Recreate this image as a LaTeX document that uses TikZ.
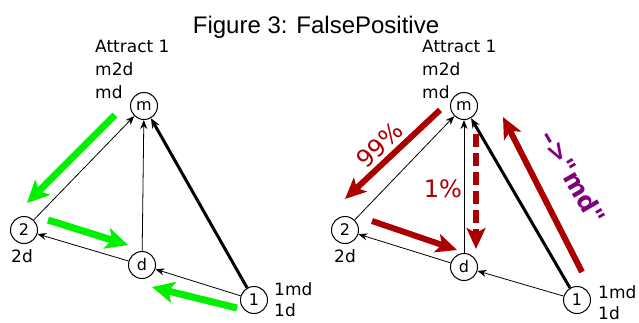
\documentclass[tikz,border=0pt]{standalone}
\usepackage{fontspec}
\setmainfont{DejaVu Sans}
\newfontfamily\titlefont{Liberation Sans}
\newfontfamily\mdfont{DejaVu Sans}
\usetikzlibrary{arrows.meta}
\definecolor{gr}{RGB}{0,240,0}
\definecolor{dred}{RGB}{170,0,0}
\definecolor{purp}{RGB}{128,0,128}
\tikzset{
  st/.style={circle,draw,line width=1pt,minimum size=27pt,inner sep=0pt,font=\fontsize{16}{18}\selectfont},
  lab/.style={anchor=base west,inner sep=0pt,font=\fontsize{17}{23}\selectfont},
  thin/.style={line width=0.8pt,-{Stealth[length=9pt,width=7pt]}},
  thick/.style={line width=3pt,-{Stealth[length=10pt,width=8pt]}},
  garrow/.style={gr,line width=7pt,-{Stealth[length=22pt,width=21pt,inset=5pt]}},
  rarrow/.style={dred,line width=6pt,-{Stealth[length=21pt,width=19pt,inset=5pt]}},
}
\begin{document}
\begin{tikzpicture}[x=1pt,y=-1pt]
\useasboundingbox (0,0) rectangle (639,322);
\node[anchor=base,inner sep=0pt,font=\titlefont\fontsize{24}{28}\selectfont] (title) at (316,33) {Figure 3: FalsePositive};
% left panel
\node[st] (m) at (144,106) {m};
\node[st] (two) at (24,230) {2};
\node[st] (d) at (142,265) {d};
\node[st] (one) at (254,300) {1};
\node[lab] (la1) at (95,52) {Attract 1};
\node[lab] (la2) at (95,75) {m2d};
\node[lab] (la3) at (95,98) {md};
\node[lab] (l2d) at (11,262) {2d};
\node[lab] (l1a) at (274,295) {1md};
\node[lab] (l1b) at (274,316) {1d};
\draw[thin] (two) -- (m);
\draw[thin] (d) -- (m);
\draw[thick] (one) -- (m);
\draw[thin] (d) -- (two);
\draw[thin] (one) -- (d);
\coordinate (g1a) at (115,115); \coordinate (g1b) at (27,203);
\coordinate (g2a) at (48,220); \coordinate (g2b) at (128,245);
\coordinate (g3a) at (237,308); \coordinate (g3b) at (152,287);
\draw[garrow] (g1a) -- (g1b);
\draw[garrow] (g2a) -- (g2b);
\draw[garrow] (g3a) -- (g3b);
% right panel
\node[st] (mR) at (464,106) {m};
\node[st] (twoR) at (345,230) {2};
\node[st] (dR) at (464,267) {d};
\node[st] (oneR) at (577,300) {1};
\node[lab] (ra1) at (422,52) {Attract 1};
\node[lab] (ra2) at (422,75) {m2d};
\node[lab] (ra3) at (422,98) {md};
\node[lab] (r2d) at (334,262) {2d};
\node[lab] (r1a) at (598,298) {1md};
\node[lab] (r1b) at (598,319) {1d};
\draw[thin] (twoR) -- (mR);
\draw[thin] (dR) -- (mR);
\draw[thick] (oneR) -- (mR);
\draw[thin] (dR) -- (twoR);
\draw[thin] (oneR) -- (dR);
\coordinate (r1a') at (440,110); \coordinate (r1b') at (345,199);
\coordinate (r2a') at (476,134); \coordinate (r2b') at (476,249);
\coordinate (r3a') at (372,221); \coordinate (r3b') at (457,250);
\coordinate (r4a') at (582,272); \coordinate (r4b') at (503,117);
\draw[rarrow] (r1a') -- (r1b');
\draw[rarrow,dash pattern=on 13pt off 6pt] (r2a') -- (r2b');
\draw[rarrow] (r3a') -- (r3b');
\draw[rarrow] (r4a') -- (r4b');
\node[dred,rotate=44,font=\fontsize{24}{28}\selectfont,inner sep=0pt] (p99) at (380,145) {99\%};
\node[dred,font=\fontsize{24}{28}\selectfont,inner sep=0pt] (p1) at (443,189) {1\%};
\node[purp,rotate=-60,font=\mdfont\bfseries\fontsize{25}{30}\selectfont,inner sep=0pt] (md) at (573,177) {–>"md"};
\end{tikzpicture}
\end{document}
